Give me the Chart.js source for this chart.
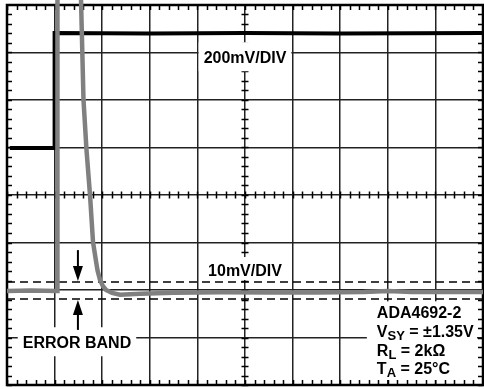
<!DOCTYPE html>
<html>
<head>
<meta charset="utf-8">
<script src="https://cdn.jsdelivr.net/npm/chart.js@4"></script>
<style>
html, body { margin: 0; padding: 0; background: #fff; }
#wrap { width: 484px; height: 389px; position: relative; }
</style>
</head>
<body>
<div id="wrap"><canvas id="scope"></canvas></div>
<script>
// scope screen, in divisions: 10 across, 8 up
const X_DIVS = 10;
const Y_DIVS = 8;

// input step (200mV/DIV), black trace
const inputX = [0.06, 1.0, 1.0, 3.0, 5.0, 7.0, 10.0];
const inputY = [4.99, 4.99, 7.41, 7.40, 7.41, 7.40, 7.41];

// output (10mV/DIV), grey trace - goes off the top and settles back
const outputX = [0.0, 0.5, 1.05, 1.06, 1.06, 1.53, 1.555, 1.607, 1.67, 1.744, 1.807, 1.86, 1.90, 1.954, 2.017, 2.08, 2.206, 2.374, 2.8, 3.5, 4.5, 5.5, 6.5, 7.5, 8.0, 8.5, 9.2, 10.0];
const outputY = [1.98, 1.99, 1.98, 1.98, 9.0, 9.0, 8.11, 6.0, 4.95, 4.0, 3.01, 2.67, 2.42, 2.21, 2.08, 2.0, 1.94, 1.90, 1.92, 1.94, 1.95, 1.95, 1.95, 1.96, 1.98, 1.96, 1.96, 1.96];

// error band limits
const bandLevels = [2.17, 1.81];

// labels on the screen
const labelText = ['200mV/DIV', '10mV/DIV', 'ERROR BAND'];
const labelX = [5.0, 5.0, 1.47];
const labelY = [6.9, 2.42, 0.9];

// part info block (main text, subscript, rest)
const infoMain = ['ADA4692-2', 'V', 'R', 'T'];
const infoSub = ['', 'SY', 'L', 'A'];
const infoRest = ['', ' = \u00b11.35V', ' = 2k\u03a9', ' = 25\u00b0C'];
const infoX = 7.77;
const infoY = [1.53, 1.14, 0.74, 0.36];

// error band arrows: x, shaft start, tip
const arrowX = 1.49;
const arrowDown = [2.84, 2.19];
const arrowUp = [1.16, 1.79];

const FONT = 'bold 16px "Liberation Sans", Arial, sans-serif';
const SUBFONT = 'bold 13px "Liberation Sans", Arial, sans-serif';

function pts(xs, ys) {
  return xs.map((x, i) => ({ x: x, y: ys[i] }));
}

function capMid(ctx, text, cx, cy) {
  // draw text centred on its cap height
  ctx.textAlign = 'center';
  ctx.textBaseline = 'alphabetic';
  ctx.fillText(text, cx, cy + 5.7);
}

const scopeDecor = {
  id: 'scopeDecor',
  beforeDatasetsDraw(chart) {
    const ctx = chart.ctx;
    const a = chart.chartArea;
    const xs = chart.scales.x, ys = chart.scales.y;
    ctx.save();
    ctx.strokeStyle = '#000';
    ctx.lineWidth = 1.5;
    // minor ticks, 5 per division, on the frame and the centre axes
    const cx = xs.getPixelForValue(X_DIVS / 2);
    const cy = ys.getPixelForValue(Y_DIVS / 2);
    ctx.beginPath();
    for (let v = 0; v <= X_DIVS; v += 0.2) {
      const px = Math.round(xs.getPixelForValue(v)) + 0.5;
      ctx.moveTo(px, a.top); ctx.lineTo(px, a.top + 5);
      ctx.moveTo(px, a.bottom); ctx.lineTo(px, a.bottom - 5);
      ctx.moveTo(px, cy - 3.5); ctx.lineTo(px, cy + 3.5);
    }
    for (let v = 0; v <= Y_DIVS; v += 0.2) {
      const py = Math.round(ys.getPixelForValue(v)) + 0.5;
      ctx.moveTo(a.left, py); ctx.lineTo(a.left + 5, py);
      ctx.moveTo(a.right, py); ctx.lineTo(a.right - 5, py);
      ctx.moveTo(cx - 3.5, py); ctx.lineTo(cx + 3.5, py);
    }
    ctx.stroke();

    // white boxes behind the labels
    ctx.font = FONT;
    ctx.fillStyle = '#fff';
    labelText.forEach((t, i) => {
      const w = ctx.measureText(t).width;
      const px = xs.getPixelForValue(labelX[i]);
      const py = ys.getPixelForValue(labelY[i]);
      const hTop = i === 1 ? 13 : 15;
      const hBot = i === 1 ? 10 : 14;
      ctx.fillRect(px - w / 2 - 5, py - hTop, w + 10, hTop + hBot);
    });
    // box behind info block
    const bx = xs.getPixelForValue(infoX) - 10;
    const by = ys.getPixelForValue(infoY[0]) - 11;
    ctx.fillRect(bx, by, a.right - 6 - bx, a.bottom - 5 - by);

    // frame
    ctx.lineWidth = 2.5;
    ctx.strokeStyle = '#000';
    ctx.strokeRect(a.left, a.top, a.right - a.left, a.bottom - a.top);
    ctx.restore();
  },
  afterDatasetsDraw(chart) {
    const ctx = chart.ctx;
    const xs = chart.scales.x, ys = chart.scales.y;
    ctx.save();
    ctx.fillStyle = '#000';
    ctx.font = FONT;
    labelText.forEach((t, i) => {
      capMid(ctx, t, xs.getPixelForValue(labelX[i]), ys.getPixelForValue(labelY[i]));
    });

    // info block with subscripts
    ctx.textAlign = 'left';
    ctx.textBaseline = 'alphabetic';
    infoMain.forEach((m, i) => {
      let px = xs.getPixelForValue(infoX);
      const base = ys.getPixelForValue(infoY[i]) + 5.7;
      ctx.font = FONT;
      ctx.fillText(m, px, base);
      px += ctx.measureText(m).width;
      if (infoSub[i]) {
        ctx.font = SUBFONT;
        ctx.fillText(infoSub[i], px, base + 3.5);
        px += ctx.measureText(infoSub[i]).width;
      }
      ctx.font = FONT;
      ctx.fillText(infoRest[i], px, base);
    });

    // error band arrows
    const ax = xs.getPixelForValue(arrowX);
    [arrowDown, arrowUp].forEach(ar => {
      const y0 = ys.getPixelForValue(ar[0]);
      const y1 = ys.getPixelForValue(ar[1]);
      const dir = y1 > y0 ? 1 : -1;
      ctx.lineWidth = 2;
      ctx.strokeStyle = '#000';
      ctx.beginPath();
      ctx.moveTo(ax, y0);
      ctx.lineTo(ax, y1 - dir * 12);
      ctx.stroke();
      ctx.beginPath();
      ctx.moveTo(ax, y1);
      ctx.lineTo(ax - 5, y1 - dir * 15);
      ctx.lineTo(ax + 5, y1 - dir * 15);
      ctx.closePath();
      ctx.fill();
    });
    ctx.restore();
  }
};

const bandSets = bandLevels.map(v => ({
  data: [{ x: 0, y: v }, { x: X_DIVS, y: v }],
  showLine: true,
  borderColor: '#000',
  borderWidth: 1.5,
  borderDash: [8, 5],
  pointRadius: 0,
  order: 3
}));

new Chart(document.getElementById('scope'), {
  type: 'scatter',
  data: {
    datasets: [
      {
        data: pts(outputX, outputY),
        showLine: true,
        borderColor: '#808080',
        borderWidth: 4.5,
        pointRadius: 0,
        tension: 0,
        clip: { left: 0, top: 6, right: 0, bottom: 0 },
        order: 1
      },
      {
        data: pts(inputX, inputY),
        showLine: true,
        borderColor: '#000',
        borderWidth: 4,
        pointRadius: 0,
        tension: 0,
        order: 2
      }
    ].concat(bandSets)
  },
  options: {
    responsive: true,
    maintainAspectRatio: false,
    animation: false,
    events: [],
    layout: { padding: { left: 7, top: 5, right: 1, bottom: 4 } },
    plugins: { legend: { display: false }, tooltip: { enabled: false } },
    scales: {
      x: {
        type: 'linear', min: 0, max: X_DIVS,
        ticks: { stepSize: 1, display: false },
        grid: { color: '#222', lineWidth: 1.5, drawTicks: false },
        border: { display: false }
      },
      y: {
        type: 'linear', min: 0, max: Y_DIVS,
        ticks: { stepSize: 1, display: false },
        grid: { color: '#222', lineWidth: 1.5, drawTicks: false },
        border: { display: false }
      }
    }
  },
  plugins: [scopeDecor]
});
</script>
</body>
</html>
